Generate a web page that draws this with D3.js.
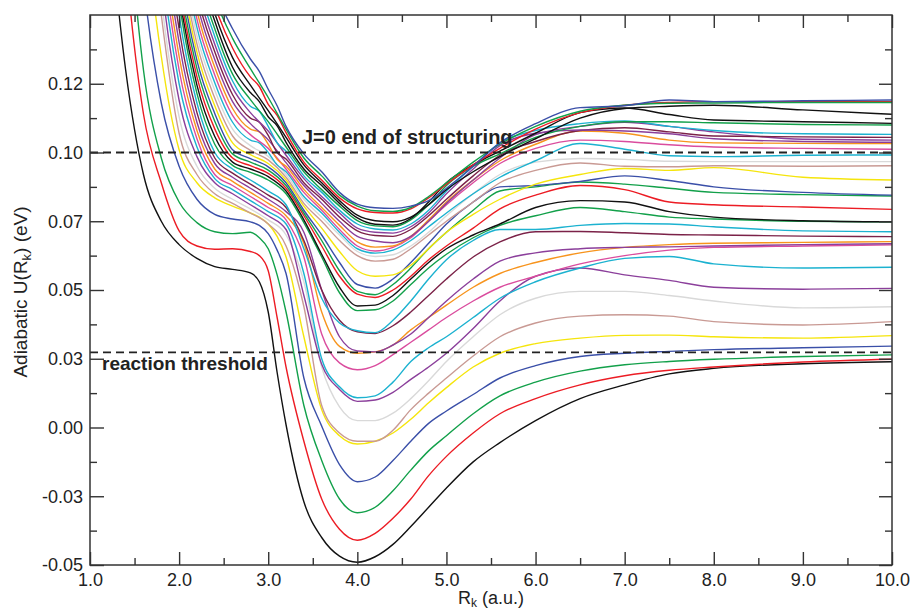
<!DOCTYPE html>
<html>
<head>
<meta charset="utf-8">
<script src="https://cdn.jsdelivr.net/npm/d3@7"></script>
<style>
  body { margin: 0; background: #fff; }
  svg { display: block; font-family: "Liberation Sans", Arial, sans-serif; }
</style>
</head>
<body>
<svg id="chart" width="912" height="612"></svg>
<script>
// R grid (a.u.) shared by all curves; null = point not read for that curve
const rGrid = [1.2, 1.4, 1.6, 1.8, 2.0, 2.2, 2.4, 2.6, 2.8, 2.9, 3.0, 3.1, 3.2, 3.4, 3.6, 3.8, 4.0, 4.2, 4.4, 4.6, 4.8, 5.0, 5.3, 5.6, 6.0, 6.5, 7.0, 7.5, 8.0, 9.0, 10.0];

// adiabatic potentials U(R) in eV, lowest first
const u0 = [0.19, 0.130, 0.092, 0.075, 0.0665, 0.0615, 0.0585, 0.0575, 0.0562, 0.053, 0.042, 0.020, 0.001, -0.027, -0.040, -0.0468, -0.049, -0.047, -0.0425, -0.036, -0.029, -0.022, -0.0125, -0.0055, 0.0025, 0.0105, 0.0155, 0.0195, 0.0215, 0.0232, 0.0239];
const u1 = [0.26, 0.170, 0.114, 0.089, 0.0715, 0.066, 0.0648, 0.065, 0.064, 0.0625, 0.057, 0.040, 0.022, -0.005, -0.026, -0.037, -0.041, -0.0385, -0.033, -0.026, -0.0175, -0.0105, -0.002, 0.005, 0.0105, 0.0155, 0.0188, 0.0208, 0.022, 0.0238, 0.0248];
const u2 = [0.30, 0.20, 0.13, 0.098, 0.082, 0.0745, 0.0712, 0.0705, 0.071, 0.069, 0.065, 0.0555, 0.042, 0.008, -0.012, -0.026, -0.031, -0.029, -0.023, -0.0155, -0.0085, -0.003, 0.005, 0.0115, 0.0165, 0.0205, 0.0228, 0.024, 0.0248, 0.0258, 0.0264];
const u3 = [0.34, 0.24, 0.162, 0.118, 0.095, 0.083, 0.0775, 0.0758, 0.0748, 0.0735, 0.0705, 0.0645, 0.056, 0.018, 0.0005, -0.0135, -0.0197, -0.018, -0.012, -0.005, 0.0015, 0.006, 0.012, 0.018, 0.0225, 0.0258, 0.027, 0.0277, 0.0283, 0.029, 0.0296];
const u4 = [0.40, 0.28, 0.19, 0.135, 0.101, 0.089, 0.0835, 0.0805, 0.078, 0.0765, 0.074, 0.0695, 0.062, 0.033, 0.0065, -0.003, -0.006, -0.005, -0.002, 0.003, 0.009, 0.0145, 0.022, 0.027, 0.0305, 0.0325, 0.0335, 0.0336, 0.033, 0.0325, 0.0334];
const u5 = [null, 0.31, 0.21, 0.15, 0.107, 0.092, 0.085, 0.0815, 0.078, null, 0.074, null, 0.066, 0.044, 0.008, -0.002, -0.005, -0.005, -0.001, 0.0065, 0.0125, 0.018, 0.026, 0.033, 0.038, 0.0405, 0.041, 0.0405, 0.0385, 0.0373, 0.0385];
const u6 = [null, 0.33, 0.225, 0.156, 0.113, 0.095, 0.087, 0.083, 0.0795, null, 0.0755, null, 0.070, 0.053, 0.022, 0.0075, 0.0025, 0.0025, 0.0052, 0.0105, 0.017, 0.024, 0.033, 0.041, 0.047, 0.0495, 0.0495, 0.048, 0.046, 0.0435, 0.0439];
const u7 = [null, 0.35, 0.24, 0.163, 0.119, 0.0985, 0.089, 0.085, 0.081, null, 0.077, null, 0.072, 0.048, 0.023, 0.0138, 0.0095, 0.010, 0.0128, 0.0175, 0.022, 0.027, 0.036, 0.046, 0.055, 0.058, 0.0555, 0.0535, 0.051, 0.0503, 0.0506];
const u8 = [null, 0.37, 0.25, 0.17, 0.125, 0.102, 0.0905, 0.0865, 0.0825, null, 0.0785, null, 0.074, 0.056, 0.025, 0.0148, 0.0108, 0.0115, 0.0165, 0.024, 0.029, 0.033, 0.040, 0.047, 0.053, 0.058, 0.0615, 0.0622, 0.0595, 0.058, 0.0583];
const u9 = [null, 0.39, 0.265, 0.177, 0.13, 0.105, 0.092, 0.088, 0.084, null, 0.080, null, 0.0755, 0.062, 0.034, 0.0235, 0.021, 0.0225, 0.0265, 0.031, 0.0355, 0.040, 0.046, 0.051, 0.055, 0.0595, 0.0625, 0.0645, 0.0655, 0.066, 0.0664];
const u10 = [null, 0.41, 0.28, 0.184, 0.135, 0.108, 0.094, 0.0895, 0.0855, null, 0.0815, null, 0.077, 0.067, 0.042, 0.0295, 0.027, 0.0275, 0.030, 0.0355, 0.040, 0.0445, 0.051, 0.056, 0.060, 0.0635, 0.0655, 0.0665, 0.067, 0.0673, 0.0676];
const u11 = [null, 0.43, 0.295, 0.19, 0.14, 0.111, 0.096, 0.091, 0.087, null, 0.083, null, 0.0785, 0.071, 0.05, 0.033, 0.0278, 0.0275, 0.030, 0.034, 0.040, 0.046, 0.054, 0.0605, 0.0635, 0.065, 0.0655, 0.0657, 0.066, 0.0665, 0.0668];
const u12 = [null, 0.45, 0.31, 0.197, 0.145, 0.1145, 0.098, 0.0925, 0.0885, null, 0.0845, null, 0.080, 0.068, 0.050, 0.039, 0.0348, 0.0342, 0.037, 0.042, 0.048, 0.054, 0.062, 0.0675, 0.0712, 0.0713, 0.0708, 0.0702, 0.070, 0.0696, 0.0694];
const u13 = [null, 0.47, 0.325, 0.205, 0.15, 0.118, 0.100, 0.094, 0.090, null, 0.086, null, 0.081, 0.065, 0.047, 0.038, 0.0352, 0.0345, 0.039, 0.046, 0.054, 0.061, 0.068, 0.072, 0.072, 0.0735, 0.0742, 0.074, 0.073, 0.0715, 0.0712];
const u14 = [null, null, null, 0.212, 0.155, 0.1215, 0.103, 0.0953, 0.0928, null, 0.090, null, 0.085, 0.0745, 0.062, 0.049, 0.0425, 0.0428, 0.046, 0.052, 0.058, 0.063, 0.069, 0.0735, 0.077, 0.080, 0.0785, 0.0765, 0.0758, 0.075, 0.0748];
const u15 = [null, null, null, 0.215, 0.158, 0.1245, 0.1058, 0.0965, 0.094, null, 0.0912, null, 0.086, 0.0755, 0.063, 0.051, 0.0442, 0.0445, 0.048, 0.054, 0.060, 0.065, 0.070, 0.074, 0.080, 0.0825, 0.082, 0.0785, 0.0765, 0.0752, 0.0748];
const u16 = [null, null, null, 0.218, 0.161, 0.1275, 0.1086, 0.098, 0.0952, null, 0.0924, null, 0.087, 0.077, 0.066, 0.055, 0.0485, 0.0473, 0.050, 0.055, 0.061, 0.066, 0.0725, 0.0795, 0.0845, 0.088, 0.0865, 0.082, 0.081, 0.0802, 0.0793];
const u17 = [null, null, null, 0.221, 0.164, 0.1305, 0.1114, 0.0995, 0.0965, null, 0.0936, null, 0.088, 0.078, 0.068, 0.057, 0.0495, 0.0483, 0.052, 0.058, 0.065, 0.071, 0.079, 0.086, 0.0875, 0.0893, 0.0885, 0.087, 0.0855, 0.0847, 0.0842];
const u18 = [null, null, null, 0.224, 0.168, 0.1335, 0.1142, 0.101, 0.0978, null, 0.0948, null, 0.089, 0.079, 0.070, 0.060, 0.052, 0.0507, 0.054, 0.060, 0.067, 0.074, 0.082, 0.0875, 0.088, 0.0895, 0.0915, 0.0898, 0.0875, 0.0855, 0.0845];
const u19 = [null, null, null, 0.227, 0.171, 0.1365, 0.117, 0.1035, 0.0992, null, 0.096, null, 0.090, 0.0805, 0.0725, 0.064, 0.057, 0.055, 0.0555, 0.059, 0.065, 0.071, 0.0775, 0.083, 0.0885, 0.092, 0.0942, 0.0935, 0.0945, 0.091, 0.090];
const u20 = [null, null, null, 0.23, 0.174, 0.1395, 0.1198, 0.106, 0.1008, null, 0.0973, null, 0.091, 0.0815, 0.075, 0.068, 0.0625, 0.0605, 0.0612, 0.065, 0.070, 0.075, 0.082, 0.089, 0.0935, 0.0962, 0.095, 0.0948, 0.0952, 0.095, 0.0952];
const u21 = [null, null, null, 0.233, 0.177, 0.1425, 0.1226, 0.1085, 0.1025, null, 0.0986, null, 0.092, 0.083, 0.0765, 0.070, 0.064, 0.0622, 0.0628, 0.066, 0.071, 0.077, 0.085, 0.092, 0.0965, 0.0978, 0.0975, 0.0968, 0.0967, 0.0967, 0.0967];
const u22 = [null, null, null, 0.236, 0.181, 0.1455, 0.1254, 0.111, 0.1045, 0.1035, 0.100, 0.0955, 0.093, 0.084, 0.078, 0.071, 0.065, 0.0634, 0.0645, 0.068, 0.073, 0.078, 0.085, 0.091, 0.097, 0.1033, 0.1012, 0.0988, 0.0985, 0.099, 0.0991];
const u23 = [null, null, null, 0.239, 0.184, 0.1485, 0.1282, 0.1135, 0.1065, null, 0.1015, null, 0.094, 0.0855, 0.079, 0.072, 0.066, 0.0642, 0.0655, 0.069, 0.075, 0.081, 0.089, 0.096, 0.1015, 0.1045, 0.104, 0.1028, 0.102, 0.1015, 0.1012];
const u24 = [null, null, null, 0.242, 0.187, 0.1515, 0.131, 0.116, 0.1085, 0.1075, 0.103, 0.0975, 0.095, 0.0866, 0.080, 0.0735, 0.0675, 0.0656, 0.066, 0.0695, 0.0755, 0.082, 0.090, 0.097, 0.103, 0.1078, 0.107, 0.1045, 0.1035, 0.1033, 0.1033];
const u25 = [null, null, null, 0.245, 0.191, 0.1545, 0.1338, 0.1185, 0.1105, null, 0.1046, null, 0.0963, 0.088, 0.0815, 0.075, 0.0695, 0.0678, 0.0672, 0.0695, 0.075, 0.0815, 0.090, 0.098, 0.1065, 0.1095, 0.111, 0.1095, 0.1075, 0.1048, 0.1045];
const u26 = [null, null, null, 0.248, 0.194, 0.1575, 0.1366, 0.121, 0.1125, 0.111, 0.1062, 0.100, 0.0976, 0.089, 0.083, 0.0765, 0.0715, 0.0698, 0.0695, 0.072, 0.077, 0.083, 0.0915, 0.099, 0.104, 0.108, 0.109, 0.1075, 0.106, 0.1057, 0.1055];
const u27 = [null, null, null, 0.251, 0.197, 0.1605, 0.1394, 0.1235, 0.1145, null, 0.1078, null, 0.099, 0.0905, 0.084, 0.078, 0.0725, 0.071, 0.0707, 0.073, 0.078, 0.085, 0.094, 0.1025, 0.107, 0.1082, 0.1078, 0.1068, 0.105, 0.104, 0.1037];
const u28 = [null, null, null, 0.254, 0.201, 0.1635, 0.1422, 0.126, 0.1168, 0.115, 0.1095, 0.1035, 0.1005, 0.0915, 0.0855, 0.079, 0.074, 0.0722, 0.0718, 0.074, 0.079, 0.086, 0.095, 0.1035, 0.108, 0.1105, 0.1115, 0.1095, 0.108, 0.1068, 0.1066];
const u29 = [null, null, null, 0.257, 0.204, 0.1665, 0.145, 0.1285, 0.1192, null, 0.1112, null, 0.102, 0.093, 0.0865, 0.0805, 0.0752, 0.0733, 0.073, 0.0755, 0.081, 0.088, 0.095, 0.0995, 0.1055, 0.1095, 0.1112, 0.1112, 0.1108, 0.1102, 0.110];
const u30 = [null, null, null, 0.26, 0.207, 0.1695, 0.1478, 0.131, 0.1218, 0.1185, 0.113, 0.1097, 0.1037, 0.094, 0.088, 0.0815, 0.0762, 0.0739, 0.0736, 0.076, 0.082, 0.089, 0.0955, 0.1005, 0.107, 0.1145, 0.1162, 0.1138, 0.1118, 0.1112, 0.1106];
const u31 = [null, null, null, 0.263, 0.211, 0.1725, 0.1506, 0.1345, 0.1245, null, 0.1152, null, 0.1055, 0.0955, 0.089, 0.0825, 0.0772, 0.0752, 0.0748, 0.0765, 0.081, 0.0865, 0.093, 0.0985, 0.105, 0.1125, 0.116, 0.1168, 0.1172, 0.1155, 0.1139];
const u32 = [null, null, null, 0.266, 0.214, 0.1755, 0.1534, 0.138, 0.1275, 0.124, 0.1175, 0.1135, 0.1072, 0.0965, 0.090, 0.0835, 0.0795, 0.0782, 0.078, 0.0795, 0.0835, 0.0885, 0.0955, 0.1015, 0.1085, 0.1145, 0.1172, 0.1182, 0.1185, 0.1185, 0.1185];
const u33 = [null, null, null, 0.269, 0.217, 0.1785, 0.1562, 0.1415, 0.1305, null, 0.120, null, 0.1085, 0.098, 0.0915, 0.0845, 0.0805, 0.0788, 0.0786, 0.080, 0.084, 0.089, 0.0965, 0.103, 0.1095, 0.115, 0.1172, 0.1179, 0.118, 0.1182, 0.1182];
const u34 = [null, null, null, 0.272, 0.221, 0.1815, 0.159, 0.145, 0.134, 0.1295, 0.123, 0.117, 0.1095, 0.0995, 0.093, 0.0855, 0.0812, 0.0799, 0.0797, 0.0805, 0.0825, 0.087, 0.095, 0.1035, 0.1105, 0.1163, 0.117, 0.1191, 0.1185, 0.1188, 0.1191];

const potentials = [u0, u1, u2, u3, u4, u5, u6, u7, u8, u9, u10, u11, u12, u13, u14, u15, u16, u17,
  u18, u19, u20, u21, u22, u23, u24, u25, u26, u27, u28, u29, u30, u31, u32, u33, u34];

const curveColors = ["black", "red", "green", "blue", "yellow", "rosy", "gray", "purple", "cyan", "pink",
  "orange", "purple", "maroon", "cyan", "green", "black", "red", "green", "blue", "yellow", "rosy", "gray",
  "cyan", "pink", "orange", "purple", "maroon", "purple", "cyan", "green", "black", "black", "red", "green", "blue"];

const palette = {
  black: "#111111", red: "#ec1c24", green: "#12a04a", blue: "#3a4fa8", yellow: "#f5e50c",
  rosy: "#c99a94", gray: "#d9d9d9", purple: "#8b3f9b", cyan: "#1cb2d0", pink: "#da4c9e",
  orange: "#f7941d", maroon: "#7b2248"
};

// axes
const xMajor = [1, 2, 3, 4, 5, 6, 7, 8, 9, 10];
const xLabels = ["1.0", "2.0", "3.0", "4.0", "5.0", "6.0", "7.0", "8.0", "9.0", "10.0"];
const xMinor = [1.5, 2.5, 3.5, 4.5, 5.5, 6.5, 7.5, 8.5, 9.5];
const yMajor = [-0.05, -0.025, 0, 0.025, 0.05, 0.075, 0.1, 0.125];
const yLabels = ["-0.05", "-0.03", "0.00", "0.03", "0.05", "0.07", "0.10", "0.12"];
const yMinor = [-0.0375, -0.0125, 0.0125, 0.0375, 0.0625, 0.0875, 0.1125, 0.1375];

// dashed reference levels (eV)
const levelValues = [0.1, 0.0273];
const levelLabels = ["J=0 end of structuring", "reaction threshold"];

const plotLeft = 90, plotRight = 892, plotTop = 15, plotBottom = 565;

const svg = d3.select("#chart");
svg.append("rect").attr("width", 912).attr("height", 612).attr("fill", "#fff");

const x = d3.scaleLinear().domain([1, 10]).range([plotLeft, plotRight]);
const y = d3.scaleLinear().domain([-0.05, 0.15]).range([plotBottom, plotTop]);

svg.append("clipPath").attr("id", "plotClip")
  .append("rect")
  .attr("x", plotLeft).attr("y", plotTop)
  .attr("width", plotRight - plotLeft).attr("height", plotBottom - plotTop);

// curves
const line = d3.line()
  .x(d => x(d.r))
  .y(d => y(d.u))
  .curve(d3.curveMonotoneX);

const curveLayer = svg.append("g").attr("clip-path", "url(#plotClip)");

potentials.forEach((vals, i) => {
  const pts = rGrid.map((r, k) => ({ r: r, u: vals[k] })).filter(d => d.u !== null);
  curveLayer.append("path")
    .datum(pts)
    .attr("d", line)
    .attr("fill", "none")
    .attr("stroke", palette[curveColors[i]])
    .attr("stroke-width", 1.4);
});

// dashed levels and their labels
const levelLayer = svg.append("g");
levelLayer.selectAll("line")
  .data(levelValues)
  .enter().append("line")
  .attr("x1", plotLeft).attr("x2", plotRight)
  .attr("y1", d => y(d)).attr("y2", d => y(d))
  .attr("stroke", "#222")
  .attr("stroke-width", 1.8)
  .attr("stroke-dasharray", "8,5");

levelLayer.append("text")
  .attr("x", 302).attr("y", 144)
  .attr("font-size", 20).attr("font-weight", "bold").attr("fill", "#222")
  .text(levelLabels[0]);

levelLayer.append("text")
  .attr("x", 102).attr("y", 370)
  .attr("font-size", 19).attr("font-weight", "bold").attr("fill", "#222")
  .text(levelLabels[1]);

// ticks on all four sides, pointing inward
function styleAxis(g) {
  g.select(".domain").remove();
  g.selectAll(".tick line").attr("stroke", "#333").attr("stroke-width", 1.4);
  g.selectAll(".tick text").attr("fill", "#222").attr("font-size", 18)
    .attr("font-family", "'Liberation Sans', Arial, sans-serif");
}

svg.append("g").attr("transform", "translate(0," + plotBottom + ")")
  .call(d3.axisBottom(x).tickValues(xMajor).tickSize(-13).tickPadding(8)
    .tickFormat((d, i) => xLabels[i]))
  .call(styleAxis);
svg.append("g").attr("transform", "translate(0," + plotBottom + ")")
  .call(d3.axisBottom(x).tickValues(xMinor).tickSize(-7).tickFormat(""))
  .call(styleAxis);
svg.append("g").attr("transform", "translate(0," + plotTop + ")")
  .call(d3.axisTop(x).tickValues(xMajor).tickSize(-13).tickFormat(""))
  .call(styleAxis);
svg.append("g").attr("transform", "translate(0," + plotTop + ")")
  .call(d3.axisTop(x).tickValues(xMinor).tickSize(-7).tickFormat(""))
  .call(styleAxis);

svg.append("g").attr("transform", "translate(" + plotLeft + ",0)")
  .call(d3.axisLeft(y).tickValues(yMajor).tickSize(-14).tickPadding(7)
    .tickFormat((d, i) => yLabels[i]))
  .call(styleAxis);
svg.append("g").attr("transform", "translate(" + plotLeft + ",0)")
  .call(d3.axisLeft(y).tickValues(yMinor).tickSize(-7).tickFormat(""))
  .call(styleAxis);
svg.append("g").attr("transform", "translate(" + plotRight + ",0)")
  .call(d3.axisRight(y).tickValues(yMajor).tickSize(-13).tickFormat(""))
  .call(styleAxis);
svg.append("g").attr("transform", "translate(" + plotRight + ",0)")
  .call(d3.axisRight(y).tickValues(yMinor).tickSize(-7).tickFormat(""))
  .call(styleAxis);

// frame
svg.append("rect")
  .attr("x", plotLeft).attr("y", plotTop)
  .attr("width", plotRight - plotLeft).attr("height", plotBottom - plotTop)
  .attr("fill", "none")
  .attr("stroke", "#333")
  .attr("stroke-width", 1.5);

// axis titles
const xTitle = svg.append("text")
  .attr("x", 491).attr("y", 604)
  .attr("text-anchor", "middle").attr("font-size", 18).attr("fill", "#222");
xTitle.append("tspan").text("R");
xTitle.append("tspan").attr("font-size", 12).attr("dy", 3).text("k");
xTitle.append("tspan").attr("dy", -3).text(" (a.u.)");

const yTitle = svg.append("text")
  .attr("transform", "translate(27,292) rotate(-90)")
  .attr("text-anchor", "middle").attr("font-size", 19).attr("fill", "#222");
yTitle.append("tspan").text("Adiabatic U(R");
yTitle.append("tspan").attr("font-size", 13).attr("dy", 4).text("k");
yTitle.append("tspan").attr("dy", -4).text(") (eV)");
</script>
</body>
</html>
